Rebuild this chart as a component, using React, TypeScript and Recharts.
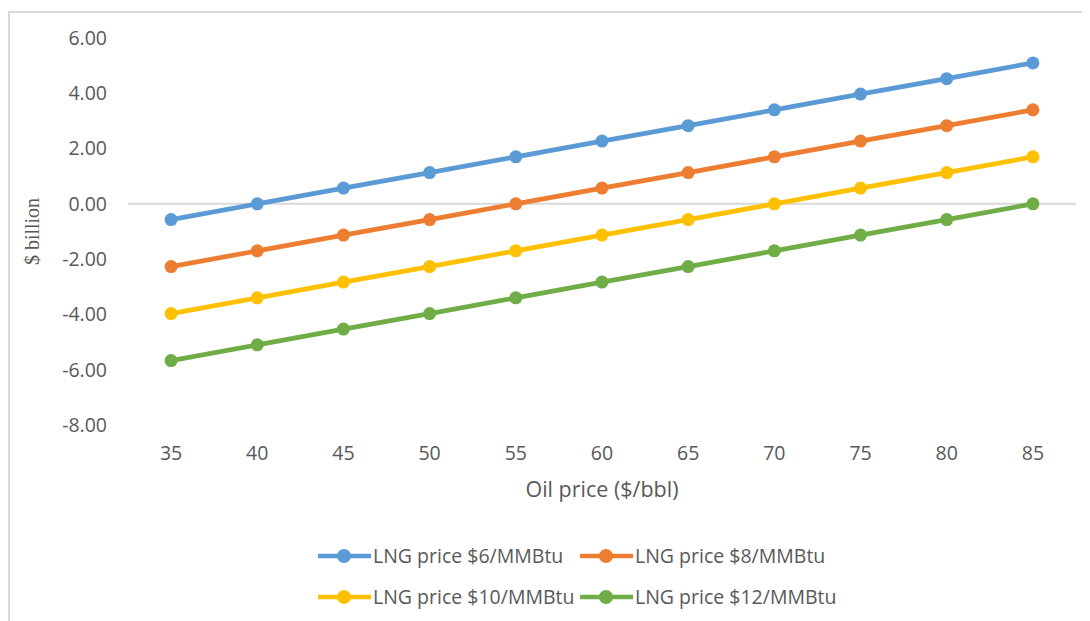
import React from "react";
import {
  LineChart,
  Line,
  XAxis,
  YAxis,
  Legend,
  ReferenceLine,
} from "recharts";

const oilPrices = [35, 40, 45, 50, 55, 60, 65, 70, 75, 80, 85];

// $ billion for each LNG price case
const lng6 = [-0.57, 0.0, 0.57, 1.13, 1.7, 2.27, 2.83, 3.4, 3.97, 4.53, 5.1];
const lng8 = [-2.27, -1.7, -1.13, -0.57, 0.0, 0.57, 1.13, 1.7, 2.27, 2.83, 3.4];
const lng10 = [-3.97, -3.4, -2.83, -2.27, -1.7, -1.13, -0.57, 0.0, 0.57, 1.13, 1.7];
const lng12 = [-5.67, -5.1, -4.53, -3.97, -3.4, -2.83, -2.27, -1.7, -1.13, -0.57, 0.0];

const yTicks = [-8, -6, -4, -2, 0, 2, 4, 6];

const series = [
  { key: "lng6", name: "LNG price $6/MMBtu", color: "#5B9BD5", values: lng6 },
  { key: "lng8", name: "LNG price $8/MMBtu", color: "#ED7D31", values: lng8 },
  { key: "lng10", name: "LNG price $10/MMBtu", color: "#FFC000", values: lng10 },
  { key: "lng12", name: "LNG price $12/MMBtu", color: "#70AD47", values: lng12 },
];

const data = oilPrices.map((oil, i) => {
  const row: Record<string, number> = { oil };
  series.forEach((s) => (row[s.key] = s.values[i]));
  return row;
});

const FONT = "'Open Sans', sans-serif";
const SERIF = "'Liberation Serif', 'Times New Roman', serif";
const TEXT = "#595959";

// keep the legend in series order (recharts sorts by name otherwise)
function LegendContent(props: any) {
  const payload = [...(props.payload || [])].sort(
    (a: any, b: any) =>
      series.findIndex((s) => s.name === a.value) - series.findIndex((s) => s.name === b.value)
  );
  return (
    <div
      style={{
        display: "grid",
        gridTemplateColumns: "262px 262px",
        gridAutoRows: "41px",
        paddingTop: 14,
        height: 100,
        boxSizing: "border-box",
        fontFamily: FONT,
        fontSize: 19.5,
        color: TEXT,
      }}
    >
      {payload.map((p: any) => (
        <div key={p.value} style={{ display: "flex", alignItems: "center" }}>
          <svg width={53} height={16} style={{ flexShrink: 0 }}>
            <line x1={1} y1={8} x2={52} y2={8} stroke={p.color} strokeWidth={4.7} strokeLinecap="round" />
            <circle cx={26} cy={8} r={7} fill={p.color} />
          </svg>
          <span style={{ marginLeft: 2, whiteSpace: "nowrap" }}>{p.value}</span>
        </div>
      ))}
    </div>
  );
}

function XTitle({ viewBox }: any) {
  const { x, y, width, height } = viewBox;
  return (
    <text x={x + width / 2} y={y + height - 24} textAnchor="middle" fontFamily={FONT} fontSize={21.5} fill={TEXT}>
      Oil price ($/bbl)
    </text>
  );
}

function YTitle({ viewBox }: any) {
  const { x, y, height } = viewBox;
  const cx = x + 31;
  const cy = y + height / 2;
  return (
    <text
      x={cx}
      y={cy}
      transform={`rotate(-90 ${cx} ${cy})`}
      textAnchor="middle"
      fontFamily={SERIF}
      fontSize={20}
      fill={TEXT}
    >
      $ billion
    </text>
  );
}

export default function App() {
  return (
    <div style={{ paddingTop: 3 }}>
      <div
        style={{
          position: "relative",
          width: 1082,
          height: 610,
          borderLeft: "2px solid #d9d9d9",
          borderTop: "2px solid #d9d9d9",
          boxSizing: "border-box",
        }}
      >
        <div style={{ position: "absolute", left: -2, top: -2 }}>
          <LineChart
            width={1082}
            height={610}
            data={data}
            margin={{ top: 27, right: 14, bottom: 0, left: 0 }}
          >
            <XAxis
              dataKey="oil"
              type="number"
              domain={[32.5, 87.5]}
              ticks={oilPrices}
              axisLine={false}
              tickLine={false}
              tickSize={0}
              tickMargin={21}
              height={96}
              tick={{ fontFamily: FONT, fontSize: 19.5, fill: TEXT }}
              label={{ content: XTitle }}
            />
            <YAxis
              domain={[-8, 6]}
              ticks={yTicks}
              width={120}
              axisLine={false}
              tickLine={false}
              tickSize={0}
              tickMargin={21}
              tickFormatter={(v: number) => v.toFixed(2)}
              tick={{ fontFamily: FONT, fontSize: 19.5, fill: TEXT }}
              label={{ content: YTitle }}
            />
            <ReferenceLine y={0} stroke="#d9d9d9" strokeWidth={2} />
            <Legend
              verticalAlign="bottom"
              content={<LegendContent />}
              wrapperStyle={{ left: 310, width: 530, height: 100, bottom: 0 }}
            />
            {series.map((s) => (
              <Line
                key={s.key}
                dataKey={s.key}
                name={s.name}
                stroke={s.color}
                strokeWidth={4.7}
                dot={{ r: 6.5, fill: s.color, stroke: "none" }}
                activeDot={false}
                isAnimationActive={false}
              />
            ))}
          </LineChart>
        </div>
      </div>
    </div>
  );
}
